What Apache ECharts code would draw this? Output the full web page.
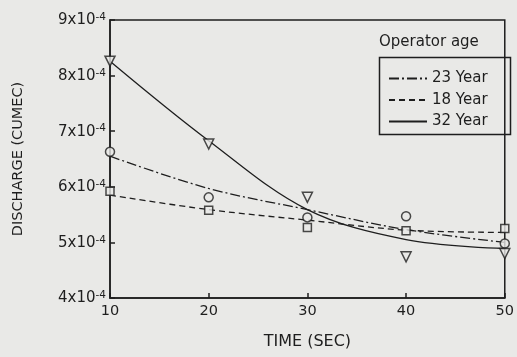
<!DOCTYPE html>
<html>
<head>
<meta charset="utf-8">
<script src="https://cdn.jsdelivr.net/npm/echarts@6/dist/echarts.min.js"></script>
<style>
html,body{margin:0;padding:0;background:#e9e9e7;}
#c{width:517px;height:357px;}
</style>
</head>
<body>
<div id="c"></div>
<script>
// Time (SEC)
var times = [10, 20, 30, 40, 50];
// Observed discharge, in units of 1e-4 CUMEC
var obs23 = [6.63, 5.81, 5.45, 5.47, 4.98];   // circles
var obs18 = [5.92, 5.58, 5.27, 5.21, 5.25];   // squares
var obs32 = [8.26, 6.77, 5.81, 4.74, 4.80];   // triangles
// Fitted curves, in units of 1e-4 CUMEC
var fit23 = [6.55, 5.97, 5.59, 5.23, 5.00];
var fit18 = [5.85, 5.59, 5.40, 5.22, 5.18];
var fit32 = [8.26, 6.83, 5.59, 5.05, 4.89];
var yTicks = [4, 5, 6, 7, 8, 9];
var legendNames = ['23 Year', '18 Year', '32 Year'];

var BG = '#e9e9e7', INK = '#1e1e1e';
var FONT = 'DejaVu Sans';

function pairs(xs, ys){ return xs.map(function(x,i){ return [x, ys[i]]; }); }

var chart = echarts.init(document.getElementById('c'));
chart.setOption({
  backgroundColor: BG,
  animation: false,
  textStyle: {fontFamily: FONT, color: INK},
  grid: {left: 110, right: 10, top: 20, bottom: 59, show: true, borderColor: INK, borderWidth: 1.5, backgroundColor: 'transparent'},
  xAxis: {
    type: 'value', min: 10, max: 50, interval: 10,
    name: 'TIME (SEC)', nameLocation: 'middle', nameGap: 36,
    nameTextStyle: {fontSize: 16, color: INK, fontFamily: FONT},
    axisLine: {show: true, lineStyle: {color: INK, width: 1.5}},
    axisTick: {show: true, inside: true, length: 5, lineStyle: {color: INK, width: 1.5}},
    axisLabel: {fontSize: 14.5, color: INK, margin: 6, fontFamily: FONT},
    splitLine: {show: false}
  },
  yAxis: {
    type: 'value', min: yTicks[0], max: yTicks[yTicks.length-1], interval: 1,
    name: 'DISCHARGE (CUMEC)', nameLocation: 'middle', nameGap: 84, nameRotate: 90,
    nameTextStyle: {fontSize: 14.5, color: INK, fontFamily: FONT},
    axisLine: {show: true, lineStyle: {color: INK, width: 1.5}},
    axisTick: {show: true, inside: true, length: 5, lineStyle: {color: INK, width: 1.5}},
    axisLabel: {
      margin: 4, color: INK,
      formatter: function(v){ return '{b|' + v + 'x10}{s|-4}'; },
      rich: {
        b: {fontSize: 15, fontFamily: FONT, color: INK, lineHeight: 16, verticalAlign: 'bottom'},
        s: {fontSize: 10.5, fontFamily: FONT, color: INK, lineHeight: 10, verticalAlign: 'top', padding: [0,0,10,0]}
      }
    },
    splitLine: {show: false}
  },
  legend: {
    data: legendNames, orient: 'vertical', left: 383, top: 66,
    itemWidth: 38, itemHeight: 2, itemGap: 6.5,
    itemStyle: {opacity: 0},
    textStyle: {fontSize: 15, color: INK, fontFamily: FONT, lineHeight: 15}
  },
  graphic: [
    {type: 'rect', left: 377, top: 55, shape: {width: 131, height: 77}, style: {fill: 'none', stroke: INK, lineWidth: 1.5}, z: 100},
    {type: 'text', left: 379, top: 35, style: {text: 'Operator age', fontSize: 15, fontFamily: FONT, fill: INK}, z: 100}
  ],
  series: [
    {name: '23 Year', type: 'line', data: pairs(times, fit23), smooth: 0.35, symbol: 'none',
     lineStyle: {color: INK, width: 1.3, type: [10, 3, 2, 3]}, itemStyle: {color: INK}},
    {name: '18 Year', type: 'line', data: pairs(times, fit18), smooth: 0.35, symbol: 'none',
     lineStyle: {color: INK, width: 1.3, type: [6, 4]}, itemStyle: {color: INK}},
    {name: '32 Year', type: 'line', data: pairs(times, fit32), smooth: 0.35, symbol: 'none',
     lineStyle: {color: INK, width: 1.3, type: 'solid'}, itemStyle: {color: INK}},
    {name: 'obs23', type: 'scatter', data: pairs(times, obs23), symbol: 'circle', symbolSize: 9, z: 5,
     itemStyle: {color: BG, borderColor: INK, borderWidth: 1.5}},
    {name: 'obs18', type: 'scatter', data: pairs(times, obs18), symbol: 'rect', symbolSize: 8, z: 5,
     itemStyle: {color: BG, borderColor: INK, borderWidth: 1.5}},
    {name: 'obs32', type: 'scatter', data: pairs(times, obs32), symbol: 'triangle', symbolRotate: 180, symbolSize: 10, z: 5,
     itemStyle: {color: BG, borderColor: INK, borderWidth: 1.5}}
  ]
});
</script>
</body>
</html>
